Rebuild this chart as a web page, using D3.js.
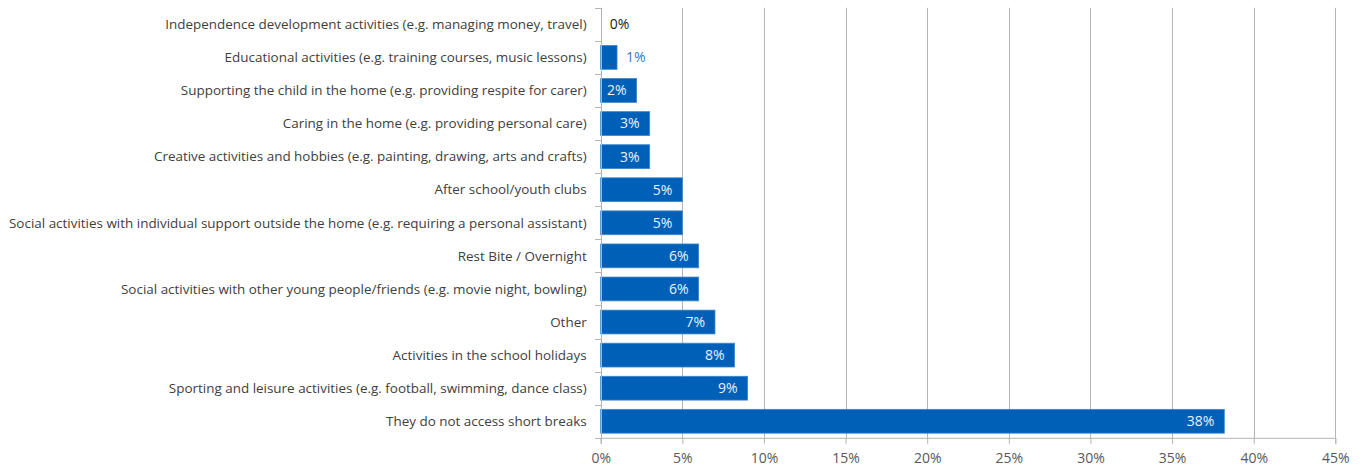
<!DOCTYPE html>
<html>
<head>
<meta charset="utf-8">
<script src="https://cdn.jsdelivr.net/npm/d3@7"></script>
<style>
  html, body { margin: 0; padding: 0; background: #ffffff; }
  svg { display: block; }
  text { font-family: "Open Sans", "Noto Sans", sans-serif; }
</style>
</head>
<body>
<svg id="chart" width="1362" height="473"></svg>
<script>
// Short-break activities accessed (share of respondents)
const categories = [
  "Independence development activities (e.g. managing money, travel)",
  "Educational activities (e.g. training courses, music lessons)",
  "Supporting the child in the home (e.g. providing respite for carer)",
  "Caring in the home (e.g. providing personal care)",
  "Creative activities and hobbies (e.g. painting, drawing, arts and crafts)",
  "After school/youth clubs",
  "Social activities with individual support outside the home (e.g. requiring a personal assistant)",
  "Rest Bite / Overnight",
  "Social activities with other young people/friends (e.g. movie night, bowling)",
  "Other",
  "Activities in the school holidays",
  "Sporting and leisure activities (e.g. football, swimming, dance class)",
  "They do not access short breaks"
];
const values = [0.000, 0.010, 0.022, 0.030, 0.030, 0.050, 0.050, 0.060, 0.060, 0.070, 0.082, 0.090, 0.382];
const tickValues = [0, 0.05, 0.10, 0.15, 0.20, 0.25, 0.30, 0.35, 0.40, 0.45];

const svg = d3.select("#chart");
const margin = { left: 600.7, right: 26.7, top: 7.8, bottom: 35.2 };
const W = 1362, H = 473;

const x = d3.scaleLinear().domain([0, 0.45]).range([margin.left, W - margin.right]);
const y = d3.scaleBand().domain(categories).range([margin.top, H - margin.bottom]).paddingInner(0.28).paddingOuter(0.14);

const gridColor = "#b3b3b3";
const barColor = "#0060b8";
const pct = d3.format(".0%");

// vertical gridlines
svg.append("g").selectAll("line").data(tickValues.slice(1)).join("line")
  .attr("x1", d => Math.round(x(d)) + 0.5).attr("x2", d => Math.round(x(d)) + 0.5)
  .attr("y1", margin.top).attr("y2", H - margin.bottom)
  .attr("stroke", gridColor).attr("stroke-width", 1);

// bars
svg.append("g").selectAll("rect").data(values).join("rect")
  .attr("x", x(0))
  .attr("y", (d, i) => y(categories[i]))
  .attr("width", d => x(d) - x(0))
  .attr("height", y.bandwidth())
  .attr("fill", barColor)
  .attr("stroke", d => d > 0 ? "#3d86cc" : "none")
  .attr("stroke-width", 0.8);

// x axis
const xAxis = d3.axisBottom(x).tickValues(tickValues).tickFormat(pct).tickSize(6).tickPadding(9);
const gx = svg.append("g").attr("transform", `translate(0,${H - margin.bottom})`).call(xAxis);
gx.select(".domain").attr("stroke", gridColor);
gx.selectAll(".tick line").attr("stroke", gridColor);
gx.selectAll(".tick text").attr("fill", "#595959").style("font-size", "14px").style("font-family", "'Open Sans', sans-serif");

// y axis: tick marks at category boundaries
const step = y.step();
const boundaries = d3.range(categories.length + 1).map(i => margin.top + i * step);
const gy = svg.append("g");
gy.append("line").attr("x1", Math.round(x(0)) + 0.5).attr("x2", Math.round(x(0)) + 0.5)
  .attr("y1", margin.top).attr("y2", H - margin.bottom).attr("stroke", gridColor);
gy.selectAll("line.tk").data(boundaries).join("line").attr("class", "tk")
  .attr("x1", Math.round(x(0)) - 6).attr("x2", Math.round(x(0)))
  .attr("y1", d => Math.round(d) + 0.5).attr("y2", d => Math.round(d) + 0.5)
  .attr("stroke", gridColor);

// category labels
svg.append("g").selectAll("text").data(categories).join("text")
  .attr("x", x(0) - 14)
  .attr("y", d => y(d) + y.bandwidth() / 2)
  .attr("dy", "0.35em")
  .attr("text-anchor", "end")
  .attr("fill", "#404040")
  .style("font-size", "13.45px")
  .text(d => d);

// value labels
svg.append("g").selectAll("text").data(values).join("text")
  .each(function (d, i) {
    const t = d3.select(this);
    const inside = (x(d) - x(0)) > 30;
    t.attr("y", y(categories[i]) + y.bandwidth() / 2)
      .attr("dy", "0.35em")
      .style("font-size", "14px")
      .text(pct(d));
    if (inside) {
      t.attr("x", x(d) - 10).attr("text-anchor", "end").attr("fill", "#eaf2fb");
    } else {
      t.attr("x", x(d) + 9).attr("text-anchor", "start").attr("fill", d > 0 ? "#2f78cc" : "#1a1a1a");
    }
  });
</script>
</body>
</html>
